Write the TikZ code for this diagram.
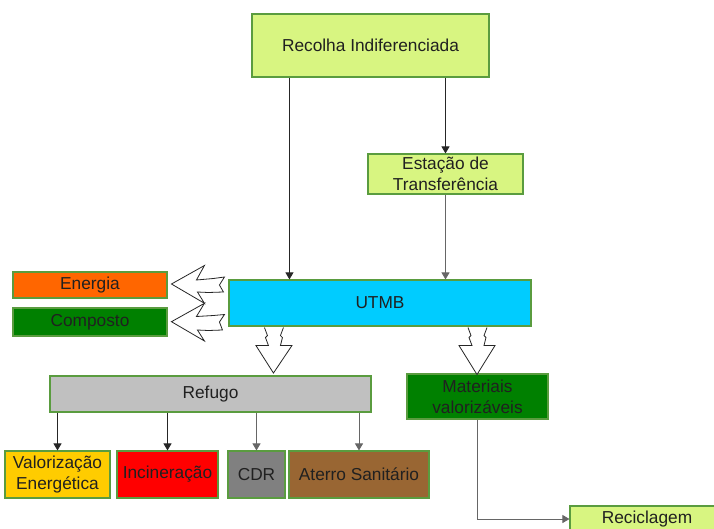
\documentclass[tikz,border=0pt]{standalone}
\usepackage{fontspec}
\setmainfont{Liberation Sans}
\usetikzlibrary{arrows.meta}
\definecolor{lgreen}{HTML}{D8F581}
\definecolor{bgreen}{HTML}{5A9C3F}
\definecolor{txt}{HTML}{202020}
\definecolor{orangeE}{HTML}{FF6600}
\definecolor{greenC}{HTML}{008000}
\definecolor{cyanU}{HTML}{00CCFF}
\definecolor{grayR}{HTML}{C0C0C0}
\definecolor{yellowV}{HTML}{FFCC00}
\definecolor{redI}{HTML}{FF0000}
\definecolor{grayC}{HTML}{808080}
\definecolor{brownA}{HTML}{996633}
\begin{document}
\begin{tikzpicture}[x=1pt,y=-1pt,
  box/.style={draw=bgreen, line width=1.1pt, inner sep=0pt, align=center, text=txt,
              font=\fontsize{17.3}{21}\selectfont},
  arr/.style={draw=black!85, line width=0.9pt, -{Triangle[width=8pt,length=7pt]}},
  arrg/.style={arr, draw=black!60},
  hollow/.style={draw=black!85, fill=white, line width=0.8pt, line join=miter}]
\useasboundingbox (0,0) rectangle (714,529);

\node[box, fill=lgreen, minimum width=237pt, minimum height=63pt] (rec) at (370.5,45.5) {Recolha Indiferenciada};
\node[box, fill=lgreen, minimum width=155pt, minimum height=40pt] (est) at (445.5,174) {Estação de\\Transferência};
\node[box, fill=orangeE, minimum width=154pt, minimum height=26pt] (ene) at (90,285) {Energia};
\node[box, fill=greenC, minimum width=154pt, minimum height=28pt] (com) at (90,322) {Composto};
\node[box, fill=cyanU, minimum width=302pt, minimum height=46pt] (utmb) at (380,303) {UTMB};
\node[box, fill=grayR, minimum width=321pt, minimum height=36pt] (ref) at (210.5,394) {Refugo};
\node[box, fill=greenC, minimum width=141pt, minimum height=45pt] (mat) at (477.5,396.5) {Materiais\\valorizáveis};
\node[box, fill=yellowV, minimum width=105pt, minimum height=47pt] (val) at (57.5,474.5) {Valorização\\Energética};
\node[box, fill=redI, minimum width=101pt, minimum height=47pt] (inc) at (167.5,474.5) {Incineração};
\node[box, fill=grayC, minimum width=57pt, minimum height=47pt] (cdr) at (256.5,474.5) {CDR};
\node[box, fill=brownA, minimum width=140pt, minimum height=47pt] (ate) at (359,474.5) {Aterro Sanitário};
\node[box, fill=lgreen, minimum width=154pt, minimum height=26pt] (recic) at (647,519) {Reciclagem};

% thin arrows
\draw[arr] ([xshift=38pt]rec.south west) -- ([xshift=61pt]utmb.north west);
\draw[arr] (rec.south -| est.north) -- (est.north);
\draw[arrg] (est.south) -- (est.south |- utmb.north);
\draw[arr] (ref.south -| val.north) -- (val.north);
\draw[arr] (ref.south -| inc.north) -- (inc.north);
\draw[arrg] (ref.south -| cdr.north) -- (cdr.north);
\draw[arrg] (ref.south -| ate.north) -- (ate.north);
\draw[arrg] (mat.south) |- (recic.west);

% jagged hollow arrows towards Energia / Composto
\begin{scope}[shift={(utmb.west)}]
\draw[hollow] (-57,-19) -- (-24,-37.5) -- (-32,-23) -- (-15,-24.5) -- (-4,-26) -- (-9,-18) -- (-5,-11) -- (-20,-10.5) -- (-31,-11) -- (-24,0.3) -- cycle;
\draw[hollow] (-57,18.7) -- (-24,0.3) -- (-32,13.5) -- (-15,12.5) -- (-4,11.5) -- (-9,19) -- (-6,27) -- (-20,27.5) -- (-31,27) -- (-24,38) -- cycle;
\end{scope}

% hollow arrows downward
\begin{scope}[shift={([xshift=45pt]utmb.south west)}]
\draw[hollow] (-9,1) -- (-6,9) -- (-8,11) -- (-5,19) -- (-17.5,19) -- (0,46.5) -- (18.5,19) -- (7,19) -- (9,11) -- (7,9) -- (10,1);
\end{scope}
\begin{scope}[shift={([xshift=97pt]utmb.south)}]
\draw[hollow] (-9,1) -- (-6,9) -- (-8,11) -- (-5,19) -- (-18,19) -- (0,48) -- (18,19) -- (7,19) -- (9,11) -- (7,9) -- (10,1);
\end{scope}
\end{tikzpicture}
\end{document}
